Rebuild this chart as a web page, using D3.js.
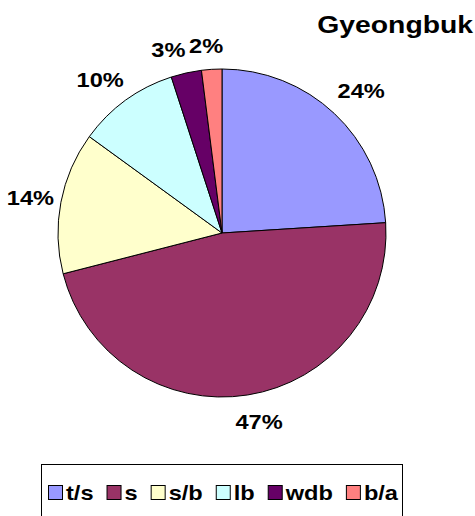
<!DOCTYPE html>
<html>
<head>
<meta charset="utf-8">
<script src="https://cdn.jsdelivr.net/npm/d3@7"></script>
<style>
  body { margin: 0; background: #fff; }
  text { font-family: "Liberation Sans", Arial, sans-serif; font-weight: bold; fill: #000; }
</style>
</head>
<body>
<div id="chart"></div>
<script>
// chart data
var categories = ["t/s", "s", "s/b", "lb", "wdb", "b/a"];
var shares = [24, 47, 14, 10, 3, 2];
var labels = ["24%", "47%", "14%", "10%", "3%", "2%"];
var colours = ["#9999FF", "#993366", "#FFFFCC", "#CCFFFF", "#660066", "#FF8080"];
var title = "Gyeongbuk";

var width = 475, height = 516;
var cx = 222, cy = 233, radius = 164;
var stretch = 1.18; // the original lettering is wide

var svg = d3.select("#chart").append("svg")
            .attr("width", width)
            .attr("height", height);

var data = categories.map(function(c, i) {
    return {key: c, value: shares[i], label: labels[i]};
});

var color = d3.scaleOrdinal().domain(categories).range(colours);

// pie starts at 12 o'clock and goes clockwise, keep data order
var pie = d3.pie().sort(null).value(function(d) { return d.value; });
var arc = d3.arc().innerRadius(0).outerRadius(radius);
var arcs = pie(data);

var g = svg.append("g").attr("transform", "translate(" + cx + "," + cy + ")");

g.selectAll("path")
    .data(arcs)
    .enter().append("path")
        .attr("d", arc)
        .attr("fill", function(d) { return color(d.data.key); })
        .attr("stroke", "#000")
        .attr("stroke-width", 1);

// percentage labels, pushed out from the rim
var labelRadius = [199, 192, 195, 197, 191, 190];
var labelNudge = [[3, 3], [7, -1], [0, 2], [-6, 6], [-12, 3], [-4, 3]];
g.selectAll(".pct")
    .data(arcs)
    .enter().append("text")
        .attr("class", "pct")
        .attr("text-anchor", "middle")
        .attr("font-size", 20)
        .attr("transform", function(d, i) {
            var a = (d.startAngle + d.endAngle) / 2;
            var x = Math.sin(a) * labelRadius[i] + labelNudge[i][0];
            var y = -Math.cos(a) * labelRadius[i] + 7 + labelNudge[i][1];
            return "translate(" + x + "," + y + ") scale(" + stretch + ",1)";
        })
        .text(function(d) { return d.data.label; });

// title
svg.append("text")
    .attr("transform", "translate(473,33) scale(" + stretch + ",1)")
    .attr("text-anchor", "end")
    .attr("font-size", 24)
    .text(title);

// legend box
var legend = svg.append("g");
legend.append("rect")
    .attr("x", 41.5)
    .attr("y", 464.5)
    .attr("width", 361)
    .attr("height", 70)
    .attr("fill", "#fff")
    .attr("stroke", "#000")
    .attr("stroke-width", 1);

var lx = 48;
categories.forEach(function(c) {
    legend.append("rect")
        .attr("x", lx + 0.5)
        .attr("y", 485.5)
        .attr("width", 14)
        .attr("height", 14)
        .attr("fill", color(c))
        .attr("stroke", "#000")
        .attr("stroke-width", 1);
    var t = legend.append("text")
        .attr("transform", "translate(" + (lx + 18) + ",500) scale(" + stretch + ",1)")
        .attr("font-size", 20)
        .text(c);
    lx += 18 + t.node().getComputedTextLength() * stretch + 13;
});
</script>
</body>
</html>
